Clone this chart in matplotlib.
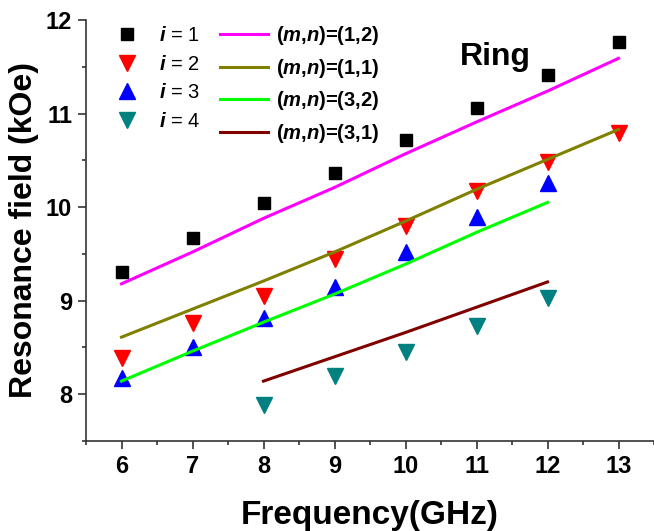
# Ring: resonance field vs frequency
import matplotlib
matplotlib.use('Agg')
import matplotlib.pyplot as plt

plt.rcParams['font.family'] = ['Liberation Sans', 'DejaVu Sans']
plt.rcParams['font.weight'] = 'bold'
plt.rcParams['mathtext.fontset'] = 'custom'
plt.rcParams['mathtext.it'] = 'Liberation Sans:italic:bold'
plt.rcParams['mathtext.rm'] = 'Liberation Sans:bold'
plt.rcParams['mathtext.bf'] = 'Liberation Sans:bold'

# 測量數據
freq_i1 = [6, 7, 8, 9, 10, 11, 12, 13]
field_i1 = [9.31, 9.67, 10.04, 10.36, 10.72, 11.06, 11.41, 11.76]
freq_i2 = [6, 7, 8, 9, 10, 11, 12, 13]
field_i2 = [8.39, 8.76, 9.05, 9.45, 9.80, 10.17, 10.48, 10.79]
freq_i3 = [6, 7, 8, 9, 10, 11, 12]
field_i3 = [8.17, 8.50, 8.81, 9.15, 9.52, 9.89, 10.26]
freq_i4 = [8, 9, 10, 11, 12]
field_i4 = [7.88, 8.20, 8.45, 8.73, 9.03]

# 理論曲線
freq_12 = [6, 7, 8, 9, 10, 11, 12, 13]
field_12 = [9.18, 9.52, 9.88, 10.21, 10.57, 10.91, 11.24, 11.59]
freq_11 = [6, 7, 8, 9, 10, 11, 12, 13]
field_11 = [8.61, 8.91, 9.21, 9.52, 9.85, 10.19, 10.51, 10.83]
freq_32 = [6, 7, 8, 9, 10, 11, 12]
field_32 = [8.14, 8.46, 8.77, 9.07, 9.39, 9.73, 10.05]
freq_31 = [8, 9, 10, 11, 12]
field_31 = [8.14, 8.40, 8.66, 8.93, 9.20]

fig = plt.figure(figsize=(6.54, 5.31), dpi=100)
ax = fig.add_axes([86 / 654, 1 - 441 / 531, 568 / 654, 421 / 531])

h1, = ax.plot(freq_i1, field_i1, 's', color='black', markersize=8.5, linestyle='none')
h2, = ax.plot(freq_i2, field_i2, 'v', color='#ff0000', markersize=12, linestyle='none')
h3, = ax.plot(freq_i3, field_i3, '^', color='#0000ff', markersize=12, linestyle='none')
h4, = ax.plot(freq_i4, field_i4, 'v', color='#008080', markersize=12, linestyle='none')

l1, = ax.plot(freq_12, field_12, '-', color='#ff00ff', linewidth=2.2)
l2, = ax.plot(freq_11, field_11, '-', color='#808000', linewidth=2.2)
l3, = ax.plot(freq_32, field_32, '-', color='#00ff00', linewidth=2.2)
l4, = ax.plot(freq_31, field_31, '-', color='#800000', linewidth=2.2)

labels = [r'$i$ = 1', r'$i$ = 2', r'$i$ = 3', r'$i$ = 4',
          r'$\mathit{(m{,}n)}$=(1,2)', r'$\mathit{(m{,}n)}$=(1,1)',
          r'$\mathit{(m{,}n)}$=(3,2)', r'$\mathit{(m{,}n)}$=(3,1)']
leg = ax.legend([h1, h2, h3, h4, l1, l2, l3, l4], labels, ncol=2,
                loc='upper left', bbox_to_anchor=(0.031, 0.99),
                frameon=False, fontsize=14.5, borderpad=0, borderaxespad=0,
                handlelength=2.35, handletextpad=0.4, columnspacing=1.0,
                labelspacing=0.47)
for t in leg.get_texts()[:4]:
    t.set_fontweight('normal')

ax.text(11.27, 11.52, 'Ring', fontsize=23, fontweight='bold', ha='center', va='baseline')

ax.set_xlim(5.5, 13.5)
ax.set_ylim(7.5, 12)
ax.set_xticks(range(6, 14))
ax.set_yticks([8, 9, 10, 11, 12])
ax.set_xticks([x + 0.5 for x in range(5, 14)], minor=True)
ax.set_yticks([7.5, 8.5, 9.5, 10.5, 11.5], minor=True)

ax.spines['top'].set_visible(False)
ax.spines['right'].set_visible(False)
for s in ['left', 'bottom']:
    ax.spines[s].set_linewidth(1.2)
    ax.spines[s].set_color('#333333')

ax.tick_params(which='major', direction='out', length=6, width=1.2, pad=4, labelsize=17, color='#333333')
ax.tick_params(which='minor', direction='out', length=3, width=1.2, color='#333333')

ax.set_xlabel('Frequency(GHz)', fontsize=24, fontweight='bold', labelpad=16)
ax.set_ylabel('Resonance field (kOe)', fontsize=23, fontweight='bold', labelpad=5)

fig.savefig('out.png', dpi=100)
